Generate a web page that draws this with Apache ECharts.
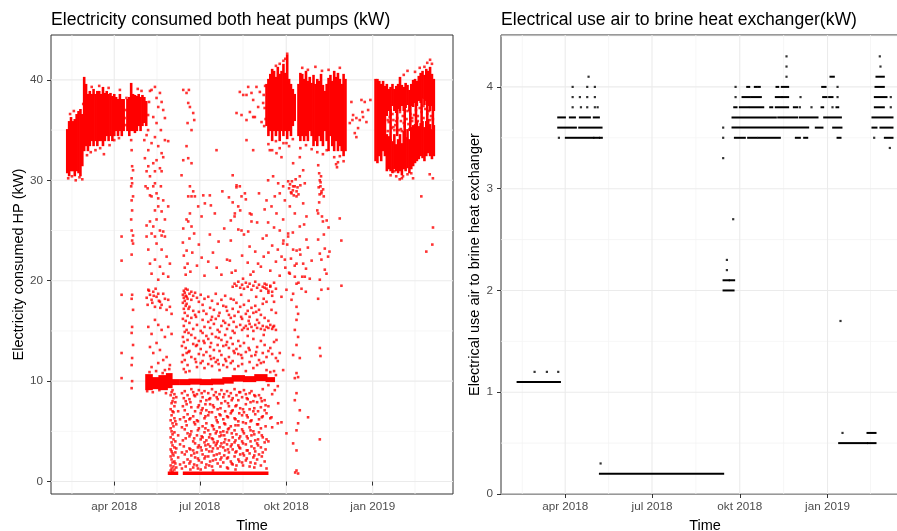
<!DOCTYPE html>
<html><head><meta charset="utf-8">
<script src="https://cdn.jsdelivr.net/npm/echarts@6/dist/echarts.min.js"></script>
<style>html,body{margin:0;padding:0;background:#fff}#c{width:897px;height:531px}</style>
</head><body><div id="c"></div>
<script>
// x values are days since 2018-01-01
const xTickDays = [90, 181, 273, 365];
const xTickLabels = ['apr 2018', 'jul 2018', 'okt 2018', 'jan 2019'];
const xMinorDays = [45, 135.5, 227, 319, 410];
const hpYTicks = [0, 10, 20, 30, 40];
const hpYMinor = [5, 15, 25, 35];
const hexYTicks = [0, 1, 2, 3, 4];
const hexYMinor = [0.5, 1.5, 2.5, 3.5, 4.5];

// ---- Left panel: electricity consumed both heat pumps (kW) ----
// dense daily ranges [day, low, high]
const hpDenseA = [[40,30.8,35.0],[42,30.5,35.8],[44,31,36.2],[46,31,35.8],[48,30.5,36],[50,31,36.5],[52,30.8,36.8],[54,30.5,37],[56,31.5,36.5],[58,33,40.2],[60,33.5,39.5],[62,33,38.5],[64,33.5,38.8],[66,34,38.5],[68,33.5,39],[70,34,38.5],[72,33.5,38.8],[74,34,38.8],[76,34,38.5],[78,33.5,39.2],[80,34,38.6],[82,34.5,38.8],[84,34,38.5],[86,34.5,38.6],[88,34,38.3],[90,34.5,38.5],[92,35,38.2],[94,34.5,38],[96,35,38.5],[98,34.5,38],[100,35,38],[104,35,38],[106,34.5,38.2],[108,35,39.6],[110,35,38.5],[112,34.8,38.4],[114,35,38.3],[116,35.5,38.5],[118,35,38.2],[120,35.5,38.4],[122,35.8,38.2],[124,35.5,37.8]];
const hpDenseB = [[252,35.5,39.5],[254,34.5,40.0],[256,35,40.5],[258,34,41.0],[260,35,40.8],[262,34.5,40.2],[264,35,41.2],[266,34,40.5],[268,35,40.8],[270,34.5,41.5],[272,35,40.6],[274,34.2,42.4],[276,35,40.0],[278,34.5,39.5],[280,35.5,39.0],[282,36,38.5],[286,34.5,39.5],[288,34,40.6],[290,34.5,40.5],[292,34,40.0],[294,34.5,40.8],[296,34,39.8],[298,35,40.2],[300,34.5,39.6],[302,33.5,40.4],[304,34,39.5],[306,33.5,40.0],[308,34.5,39.8],[310,34,40.5],[312,33.5,39.4],[314,35,38.8],[316,34,39.5],[318,33,40.1],[320,34.5,40.4],[322,33.5,39.8],[324,33,40.8],[326,34,40.2],[328,33,40.6],[330,33.5,40.0],[332,33,39.5],[334,32.5,40.5],[336,33,40.0]];
const hpDenseC = [[368,32,40],[370,31.8,40],[372,32.5,39.8],[374,32,39.5],[376,33,39.8],[378,32.5,39.3],
[380,36.5,39.5],[382,37,39.0],[384,36.5,39.2],[386,37.5,39.5],[388,37,39.0],[390,36.8,39.3],[392,37.2,39.5],[394,37,40.2],[396,37.5,39.4],[398,37,39.2],[400,37.3,39.6],[402,37.6,39.4],[404,37,38.9],[406,37.5,39.5],[408,37.4,39.9],[410,37.8,40.0],[412,37.5,39.8],[414,38,40.3],[416,37.8,40.6],[418,38.2,40.8],[420,37.6,40.4],[422,38,41.0],[424,37.5,40.8],[426,37,41.2],[428,37.5,40.5],[430,37,40.0],
[380,31,34.5],[382,31.2,34.3],[384,31,34.0],[386,30.8,33.8],[388,31.2,34.5],[390,31,33.5],[392,30.8,34],[394,31,34.5],[396,30.6,33.6],[398,31.2,34.8],[400,31,34.2],[402,31.3,35.0],[404,30.8,34.0],[406,31.2,35.2],[408,31.5,35.4],[410,31.8,35.5],[412,32,35.8],[414,32.2,35.3],[416,32.5,35.6],[418,32.3,35.8],[420,32,35.2],[422,32.5,35.8],[424,32.8,36],[426,32.5,35.5],[428,32.2,35],[430,32.5,35.4],
[384,34,37],[391,34.5,37.5],[399,34,37.2],[405,35,37.5],[411,35.5,38],[417,35.6,38],[423,35.8,38],[429,35.2,37.5]];
// horizontal dense bands [startDay, endDay, low, high]
const hpBand10 = [[124,130,9.2,10.6],[130,138,9.3,10.3],[138,146,9.2,10.5],[146,151,9.4,10.7],[151,158,9.7,10.1],[160,170,9.7,10.1],[170,182,9.75,10.15],[182,194,9.7,10.1],[194,206,9.75,10.15],[206,216,9.85,10.3],[216,228,10.05,10.5],[228,240,10.0,10.4],[240,252,10.1,10.6],[252,260,10.0,10.3]];
const hpFloor = [[148,157,0.75,0.9],[164,253,0.75,0.9]];
// scattered points [day, kW]
const hpSpringPts = [[97.8,24.4],[97.8,22.0],[97.8,18.6],[97.8,12.8],[97.8,10.3],
[108,34.0],[108.5,33],[109,31.4],[110,31.0],[108.5,30.2],[109,29.7],[108,29.4],[110,28.4],[108.5,28.0],[109,27.0],[108,26.1],[108.5,25.0],[110,24.5],[109,24.0],[110,23.7],[108.5,22.6],[109,18.6],[108.5,18.2],[110,17.1],[109,15.4],[108.5,14.8],[110,13.6],[109,12.3],[108.5,11.6],[109,10.0],[108.5,9.3],
[129.7,39.0],[133.3,39.3],[135,38.2],[136.8,37.3],[138.6,38.7],[140.4,37.8],[142.1,37.0],[143.9,36.2],[131.5,36.3],[135,35.7],[139.6,35.0],[122,34.0],[124.4,34.5],[126.2,33.0],[129.7,33.7],[133.3,34.3],[136.8,33.4],[140.4,32.7],[143.9,34.0],[147.4,33.9],[122.6,32.2],[126.2,31.4],[131.5,31.7],[135,32.0],[138.6,31.2],[142.1,32.3],[124.4,30.9],[133.3,30.9],[128,30.4],[140.4,30.9],[123.3,29.4],[125.5,29.2],[128,28.5],[129.7,28.4],[131.5,29.4],[133.3,29.7],[135,28.7],[136.8,28.2],[139.6,29.4],[142.1,28.0],[133.3,27.0],[136.8,27.4],[140.4,26.9],[143.9,26.1],[147.4,27.4],[124.4,25.5],[128,25.9],[131.5,25.4],[135,26.1],[138.6,25.0],[142.1,24.9],[129.7,24.7],[133.3,24.4],[140.4,24.5],
[124.4,24.4],[126.2,23.1],[128,21.7],[129.7,20.7],[133.3,22.1],[135,23.7],[136.8,20.1],[138.6,21.4],[140.4,23.1],[142.1,20.7],[143.9,24.4],[145.7,22.4],[147.4,20.4],[149.2,21.7],
[126.2,19.1],[128,18.6],[129.7,18.1],[131.5,18.9],[133.3,17.4],[135,18.4],[136.8,18.7],[138.6,17.9],[140.4,17.6],[142.1,18.7],[143.9,18.2],[145.7,17.1],[147.4,18.1],[149.2,17.4],[151,16.7],
[124.5,18.3],[125.5,17.6],[127,19.0],[130.5,17.8],[132,18.5],[134,19.2],[137.5,18.0],[139,17.3],
[126.2,15.4],[129.7,14.7],[133.3,16.1],[136.8,15.6],[140.4,15.1],[143.9,14.4],[147.4,15.4],[151,14.7],
[128,13.4],[131.5,12.8],[135,13.8],[138.6,13.1],[142.1,12.1],[145.7,12.4],[149.2,11.6],[129.7,11.4],[136.8,11.8],[143.9,11.1],
[125,9.0],[127.5,10.9],[131,8.9],[134.5,11.0],[138,9.1],[141.5,10.8],[145,8.8],[148.5,11.2]];
// summer cloud columns: [day, kW, kW, ...]
const hpSummerCols = [
[150,8.6,7.2,6.1,5.3,4.4,3.2,2.5,1.6,1.1],[151,8.9,7.8,6.6,5.0,3.9,3.0,2.2,1.3],[152,9.1,8.0,7.0,5.8,4.7,3.6,2.8,1.9,1.0],[153,8.3,6.9,5.5,4.2,2.6,1.5],[154,8.7,7.5,6.3,4.9,3.4,2.0,1.2],[155,7.9,6.0,4.0,2.9,1.8],[156,8.4,5.7,3.3,1.4],[158,7.0,4.6,2.4],[160,6.2,3.7,1.7],
[162,13.5,11.9,8.8,5.4,2.9,1.3],[163,18.6,17.8,16.2,14.4,12.6,7.5,4.1],[164,19.0,18.3,17.2,15.5,13.9,11.2,8.3,6.4,3.5,1.9],[165,18.8,18.0,16.8,14.9,12.1,9.0,7.1,5.2,2.7],[166,19.2,18.5,17.5,16.0,13.3,10.9,8.0,6.0,4.3,1.5],[167,18.4,17.7,15.1,12.8,7.7,5.6,3.0],[168,19.1,18.2,16.5,14.1,11.6,8.6,6.7,4.8,2.2],
[170,18.7,17.4,15.8,13.0,11.0,8.2,6.2,4.5,3.3,1.8],[172,18.9,18.1,16.3,14.6,12.4,9.2,7.4,5.0,2.6],[174,18.5,17.0,15.2,13.7,8.9,6.5,4.0,3.1,1.4],[176,18.8,16.6,14.3,12.2,8.5,7.0,5.7,3.8,2.4],[178,18.3,15.6,13.6,11.4,8.7,6.1,4.6,2.9,1.6],[180,17.9,16.9,14.0,12.7,9.1,7.6,5.3,3.6,2.1],
[182,18.6,15.0,13.2,11.8,8.0,6.8,4.2,3.4,1.2],[184,17.6,16.1,14.8,12.0,8.4,7.3,5.5,4.4,2.7],[186,18.2,15.4,13.8,11.3,9.0,6.3,4.9,3.9,2.3],[188,16.7,14.5,12.9,8.1,7.1,5.8,4.1,3.2,1.7],[190,18.4,15.9,14.2,11.7,8.8,6.6,5.1,3.7,2.5],[192,17.3,15.3,13.4,12.5,8.3,7.7,4.7,3.5,2.0],
[194,18.0,16.4,14.7,11.5,9.2,6.9,5.6,4.3,3.0,1.5],[196,17.1,15.7,13.1,12.3,8.6,7.4,5.2,3.9,2.6],[198,18.7,16.2,14.4,11.9,8.9,6.4,4.8,3.6,2.2],[200,17.7,15.1,13.6,12.1,8.2,7.2,5.9,4.0,3.3,1.8],[202,16.8,14.9,13.0,11.1,8.7,6.7,5.4,4.5,2.8],[204,18.1,15.5,14.1,12.6,9.1,7.8,4.6,3.8,2.4],
[206,17.5,16.0,13.5,11.6,8.4,6.2,5.0,3.4,1.9],[208,18.5,15.8,14.6,12.2,8.0,7.0,5.7,4.2,3.1],[210,17.0,15.2,13.9,11.4,9.0,6.5,4.9,3.7,2.3,1.4],[212,16.6,15.6,13.3,12.4,8.5,7.5,5.3,4.1,2.9],[214,18.2,16.3,14.3,11.8,8.8,6.8,5.5,3.5,2.0],
[216,19.4,17.2,15.0,13.7,12.0,8.3,7.1,4.4,3.2,1.7],[218,19.7,16.5,14.8,12.8,11.2,9.2,6.3,5.1,3.9,2.5],[220,19.5,17.8,15.4,13.2,8.6,7.6,4.7,3.0,1.6],[222,19.9,16.9,14.0,12.7,11.5,8.1,6.0,5.6,3.6,2.2],[224,19.3,17.4,15.6,13.5,8.9,7.3,4.5,3.3,2.7],[226,19.6,16.2,15.1,12.3,11.7,8.4,6.6,5.2,4.0,1.9],
[228,19.2,17.6,15.3,13.8,9.1,6.9,4.8,2.6],[230,19.8,16.7,15.5,12.9,11.0,8.7,7.7,5.8,3.7,2.1],[232,19.4,17.0,15.2,14.5,8.2,6.4,4.3,3.1],[234,19.7,16.4,15.7,13.1,11.9,8.8,7.2,5.4,2.8,1.5],[236,19.1,17.3,15.4,12.5,9.0,6.1,4.6,3.5],[238,19.5,16.8,15.0,14.2,11.3,8.0,7.0,5.0,2.4],
[240,19.9,17.5,15.6,12.6,8.5,6.7,4.1,3.0,1.8],[242,19.3,16.1,15.3,13.4,11.6,7.9,5.7,3.8,2.2],[244,19.6,17.1,15.8,12.1,8.6,6.2,4.9,2.7],[246,19.0,16.6,15.2,14.0,11.8,8.3,7.4,5.3,3.4,1.6],[248,19.4,17.7,15.5,12.8,9.2,6.5,4.4,2.9],[250,19.7,16.3,15.1,13.6,8.1,7.1,3.9,2.0],
[252,19.2,17.9,15.4,12.4,11.1,6.8,4.2,1.3],[254,18.8,16.0,15.3,13.0,9.6,7.5,4.0],[256,19.5,15.6,13.3,10.9,6.3],[258,18.5,15.2,12.7,10.2,8.7,5.4],[260,17.9,15.5,13.9,11.0],[262,16.8,15.1,12.3,10.6],[264,12.0,9.5,5.8]];
const hpSummerCols2 = [
[171,7.9,6.3,4.7,3.2,2.0,1.2],[175,8.6,5.9,4.3,2.8,1.7],[179,7.4,6.0,5.1,3.4,2.3,1.3],[183,8.8,7.1,4.5,3.1,1.9],[187,7.7,6.5,5.3,3.6,2.5,1.4],[191,8.2,6.9,4.4,3.0,1.6],
[195,7.6,5.5,4.2,3.3,2.1,1.1],[199,8.4,6.1,5.0,3.8,2.7],[203,7.3,6.6,4.9,3.5,2.2,1.5],[207,8.7,5.8,4.6,3.9,2.6],[211,7.8,6.4,5.2,3.2,2.4,1.3],[215,8.1,7.0,4.8,3.7,1.8],
[219,7.5,6.2,5.6,4.1,2.9,1.2],[223,8.9,6.8,4.3,3.4,2.0],[227,7.2,5.9,5.0,3.8,2.8,1.6],[231,8.3,6.6,4.5,3.1,2.3],[235,7.9,6.0,5.1,4.0,1.9],[239,8.6,7.3,4.7,3.3,2.6,1.4],
[243,7.0,5.7,4.2,3.6],[247,8.0,6.4,4.6,2.5],[251,7.6,5.5,3.2],
[169,17.2,14.8,12.9],[177,16.4,13.5,11.9],[185,17.0,14.0,12.6],[193,16.1,13.8,12.2],[201,16.5,14.3,11.7],[209,17.4,13.6,12.0],[217,18.1,15.9,13.0],[225,18.6,16.4,12.6],[233,18.0,16.0,13.3],[241,18.4,16.9,12.9],[249,18.2,14.6,11.9]];
const hpSummerUpperPts = [[163.4,39.0],[166.9,38.7],[169.4,39.0],[168.7,37.7],[170.5,37.3],[168,35.7],[174,36.7],[175.1,36.0],[172.2,35.0],[166.9,33.4],[163.4,32.0],[168.7,32.2],[172.2,31.7],[161.6,30.5],[170.5,29.4],[172.2,28.4],[168.7,28.4],[174,28.9],[175.8,28.4],[170.5,26.7],[166.9,26.1],[168.7,25.9],[163.4,25.2],[172.2,25.4],
[163,23.8],[164,22.5],[165,21.3],[166,20.6],[167,23.0],[168,21.7],[170,24.2],[171,20.9],[173,22.8],[175,24.7],[178,21.5],[180,23.6],[183,22.3],[186,20.5],[190,21.9],[195,22.8],
[198.8,33.0],[184.7,28.5],[186.4,27.7],[191.7,28.5],[192.8,27.5],[179.3,27.4],[182.9,26.4],[191.7,24.6],
[199,21.3],[201,23.9],[204,20.6],[207,25.2],[210,22.1],[212,28.3],[214,24.0],[215,20.8],[197,26.7],[205,28.9],
[223.6,38.8],[227.2,38.5],[230.7,38.5],[232.5,39.3],[236,38.7],[237.8,38.0],[220.1,36.7],[225.4,36.5],[230.7,36.0],[234.3,36.8],[237.8,36.3],[230.7,34.0],[237.8,33.0],[220.1,29.5],[223.6,29.4],[225.4,28.4],[229,28.7],[218.3,26.7],[221.9,27.4],[234.3,26.7],[236,25.9],[225.4,25.0],[232.5,24.9],
[239.6,36.3],[241.3,39.3],[244.9,38.8],[246.7,35.8],[248.4,37.7],[243.1,37.3],
[216,27.8],[218,26.4],[220,29.3],[222,25.1],[224,27.0],[226,22.5],[228,24.6],[230,28.1],[232,21.8],[234,23.4],[236,26.6],[238,20.9],[240,22.9],[242,25.8],[244,28.7],[246,21.4],[248,24.2],[250,27.1],[219,21.0],[227,20.2],[235,20.6],[243,21.7],[249,22.4],[213,22.0],[214,26.0],[216,30.5]];
const hpAutumnPts = [[255.5,33.0],[262.6,32.7],[267.9,32.3],[273.2,33.7],[280.3,31.7],[287.4,32.3],[291,31.0],[253.7,30.0],[259,30.4],[264.4,29.7],[269.7,29.4],[275,29.9],[280.3,29.4],[287.4,30.4],[292.7,29.7],[252,28.0],[257.3,27.4],[262.6,26.7],[269.7,26.1],[276.8,27.4],[282.1,26.7],[287.4,25.4],[291,27.7],[308.7,30.0],[309.4,29.4],[310.4,28.7],[312.2,29.1],[306.9,26.7],[308,30.7],[312.9,28.4],[260.8,28.4],[266.1,28.7],[271.5,28.0],[278.6,28.7],[283.9,28.4],[253.7,25.8],[266.1,25.0],[275,24.7],[294.5,26.4],
[276,29.2],[277,29.6],[278,28.8],[279,29.9],[280,29.0],[281,28.5],[282,29.4],[283,30.1],[284,28.9],[285,29.3],[286,28.6],[288,29.5],
[252,24.5],[254,22.8],[256,21.0],[258,23.5],[260,25.3],[262,21.9],[264,23.1],[266,20.5],[268,22.4],[270,24.0],[272,21.3],[274,23.6],[276,20.8],[278,22.2],[280,24.8],[282,21.5],[284,23.0],[286,19.8],[288,22.6],[290,20.4],[292,25.6],[294,21.2],[296,23.3],[298,20.2],[300,22.0],
[250,19.3],[252,19.6],[254,19.0],[256,19.4],[258,18.9],[260,19.8],[262,19.2],
[275,24.4],[280.3,23.1],[283.9,21.7],[282.1,20.4],[283.9,19.7],[280.3,18.7],[283.9,17.4],[285.6,16.7],[283.9,16.1],[282.1,15.1],[285.6,14.4],[283.9,13.6],[280.3,12.6],[287.4,12.3],[283.9,10.8],[282.1,10.3],[285.6,10.4],[283.9,8.8],[282.1,8.1],[287.4,7.1],[285.6,5.8],[283.9,5.1],[280.3,3.8],[283.9,3.1],[283.9,1.1],[285.6,0.8],[282.5,0.9],
[269.7,23.7],[271.5,22.1],[276.8,20.7],[287.4,23.1],[291,21.7],[292.7,20.4],[294.5,24.1],[289.2,19.2],[293.8,18.9],[273.2,19.1],[267.9,18.4],[278.6,18.1],
[257.3,17.1],[259,15.4],[262.6,14.1],[266.1,12.8],[269.7,11.1],[260.8,9.1],[264.4,7.8],[267.9,5.9],[257.3,6.4],[273.2,4.8],
[306.9,24.1],[308.7,22.7],[310.4,22.1],[314,21.1],[317.5,22.4],[315.8,20.7],[308.7,20.1],[317.5,19.2],[310.4,19.1],[306.9,18.2],[308.7,13.3],[309.4,12.5],[331.7,19.5],[308.7,4.2],[296.2,6.4],
[307.5,29.3],[308.5,28.6],[309.5,29.8],[310.5,28.9],[308,27.8],[311,26.4],[312,25.9],[313,24.6],[314,23.2],[316,26.0],[318,25.3],[319,22.9],[307,31.5],[310,30.4],[306,27.0],[329.9,26.2],[331.6,24.0]];
const hpWinterPts = [[41,30.2],[45,30.4],[49,30.0],[53,30.3],[56,30.1],[61,32.5],[65,32.8],[70,33.0],[75,33.2],[79,32.6],[85,33.5],[90,34.0],[95,34.2],[102,35.5],[102,37.0],[101,36.2],[103,38.2],[126,36.5],[127,37.8],[128,38.9],[126,35.0],[57,37.6],[59,38.8],[47,36.9],[43,36.6],[66,39.3],[74,39.4],[84,39.2],[96,39.0],[115,39.1],[119,38.9],
[324,32.3],[326,31.6],[328,31.8],[330,32.4],[327,31.3],[334,31.9],[270,41.9],[272,42.1],[274,42.6],[266,41.6],[262,41.4],[290,41.2],[296,41.0],[304,41.3],[311,40.9],[318,41.0],[330,41.2],
[249,38.5],[250,37.2],[251,36.1],[250.5,39.4],[249.5,35.4],[254,33.6],[258,33.0],[262,33.9],[266,33.2],[270,33.7],[276,33.4],[280,34.1],[288,33.2],[294,33.5],[300,33.1],[306,32.8],[312,32.6],[316,33.0],
[340.6,35.7],[344.1,36.5],[347.6,36.2],[351.2,36.0],[354,36.8],[356.5,37.8],[360.1,37.0],[362.5,38.0],[345.9,34.7],[349.4,35.2],[354.7,36.3],[358.3,35.8],[342.3,37.8],[353,38.0],[343.4,36.0],[347.6,34.3],
[382,35.8],[383,36.3],[385,35.2],[387,36.0],[389,35.5],[391,36.2],[393,35.0],[395,35.9],[397,36.4],[399,35.4],[401,36.1],[403,35.6],[405,36.6],[407,35.9],[409,36.5],[411,37.0],[413,36.4],[415,37.2],[417,36.8],[419,36.2],[421,37.1],[423,36.6],[425,36.9],[427,36.4],[429,36.1],[381,34.9],[388,35.0],[396,34.9],[404,35.1],
[386,36.6],[390,35.9],[394,36.8],[398,35.7],[402,36.9],[407,36.2],[413,35.9],[419,37.4],[426,36.0],[381,36.0],[387,35.3],[395,35.1],
[398,40.5],[402,40.9],[410,40.8],[415,41.2],[423,41.7],[426,42.0],[428,41.6],[420,41.3],[384,30.5],[390,30.4],[396,30.2],[402,30.6],[388,30.9],[406,30.7],
[422,22.9],[428.4,23.6],[429.1,25.3],[425.6,30.6],[429,30.2],[416.7,28.4],[393.7,30.1],[407.9,30.2],[397.2,30.4]];

// ---- Right panel: electrical use air to brine heat exchanger (kW) ----
// runs of consecutive readings [startDay, endDay, kW]
const hexRuns = [[40.1,84.5,1.1],[126.4,255.6,0.2],[377.2,406.5,0.5],[407.5,415.3,0.5],[406.9,415.3,0.6],
[256,261.5,2.1],[262.5,267.1,2.1],[256,266.5,2.0],
[90.7,119.5,3.5],[120.5,125.5,3.5],[126.5,128.4,3.5],[82.7,101.2,3.6],[104.7,128.1,3.6],[82.7,89.7,3.7],[94.9,100.2,3.7],[105.4,115.9,3.7],[120,125.3,3.7],
[267.9,278.3,3.5],[281.8,290.6,3.5],[292.3,315,3.5],[331.8,336,3.5],[340.5,343.7,3.5],[375.5,378.6,3.5],[425.1,433.1,3.5],
[265.4,344.7,3.6],[352.7,359.7,3.6],[370.9,379.6,3.6],[412.1,416.3,3.6],[420.5,433.1,3.6],
[265.4,310.8,3.7],[313.3,333.2,3.7],[336,354.5,3.7],[361.5,379,3.7],[412.1,433.1,3.7],
[267.2,269.6,3.8],[273.1,281.8,3.8],[283.6,297.6,3.8],[304.9,307,3.8],[310.8,323.7,3.8],[329.7,333.2,3.8],[358.7,360.4,3.8],[374.4,376.2,3.8],[414.6,424,3.8],
[275.9,283.6,3.9],[285.3,295.1,3.9],[310.8,316.8,3.9],[317.8,323.7,3.9],[360.4,363.9,3.9],[366.7,370.2,3.9],[414.6,426.8,3.9],
[280.8,282.9,4.0],[288.8,290.6,4.0],[292.3,294,4.0],[311.5,313.3,4.0],[317.1,323.7,4.0],[359.4,362.9,4.0],[415.3,424,4.0],
[368.1,371.6,4.1],[416.3,424,4.1]];
// isolated readings [day, kW]
const hexDots = [[83.4,3.5],[97.8,3.8],[106.5,3.8],[113.1,3.8],[121.1,3.8],[124,3.8],[97.8,3.9],[105.4,3.9],[113.1,3.9],[121.1,3.9],[97.8,4.0],[113.1,4.0],[121.1,4.0],[114.5,4.1],
[57.9,1.2],[70.8,1.2],[82.7,1.2],[127.1,0.3],[259.5,2.3],[259.5,2.2],[378.6,1.7],[380.7,0.6],
[255.6,3.6],[255.6,3.5],[255.6,3.3],[266.1,2.7],[268.6,4.0],[268.6,3.9],[322,4.3],[322,4.2],[322,4.1],[419.8,4.3],[420.5,4.2],[336.7,3.9],[375.5,3.9],[431.3,3.9],[375.5,4.0],[336,3.8],[348.2,3.8],[370.2,3.8],[431.3,3.8],[413.9,3.5],[430.3,3.4]];

// ---------------- chart ----------------
const FONT = 'Liberation Sans, Arial, sans-serif';
const RED = '#ff0000';
const hpMin = -1.24, hpMax = 44.47, hexMin = 0, hexMax = 4.51, xMin = 22.7, xMax = 450.4;

const hpPoints = [].concat(hpSpringPts, hpSummerUpperPts, hpAutumnPts, hpWinterPts);
hpSummerCols.concat(hpSummerCols2).forEach(c => c.slice(1).forEach(v => hpPoints.push([c[0], v])));
const hpRanges = [].concat(hpDenseA, hpDenseB, hpDenseC);
const hpBands = [].concat(hpBand10, hpFloor);

function gridData(yMin, yMajor, yMinor) {
  const out = [];
  xMinorDays.forEach(d => out.push([d, yMin, 0, 0]));
  yMinor.forEach(v => out.push([xMin, v, 1, 0]));
  xTickDays.forEach(d => out.push([d, yMin, 0, 1]));
  yMajor.forEach(v => out.push([xMin, v, 1, 1]));
  return out;
}
function gridItem(params, api) {
  const cs = params.coordSys;
  const p = api.coord([api.value(0), api.value(1)]);
  const major = api.value(3) === 1;
  const style = { stroke: major ? '#ebebeb' : '#f4f4f4', lineWidth: major ? 1.1 : 0.8 };
  if (api.value(2) === 0) {
    return { type: 'line', shape: { x1: p[0], y1: cs.y, x2: p[0], y2: cs.y + cs.height }, style: style };
  }
  return { type: 'line', shape: { x1: cs.x, y1: p[1], x2: cs.x + cs.width, y2: p[1] }, style: style };
}
function rangeItem(params, api) {
  const a = api.coord([api.value(0), api.value(1)]);
  const b = api.coord([api.value(0), api.value(2)]);
  return { type: 'rect', shape: { x: a[0] - 1.3, y: b[1] - 1, width: 2.6, height: a[1] - b[1] + 2 }, style: { fill: RED } };
}
function bandItem(params, api) {
  const a = api.coord([api.value(0), api.value(3)]);
  const b = api.coord([api.value(1), api.value(2)]);
  return { type: 'rect', shape: { x: a[0] - 1, y: a[1] - 1, width: b[0] - a[0] + 2, height: b[1] - a[1] + 2 }, style: { fill: RED } };
}
function runItem(params, api) {
  const a = api.coord([api.value(0), api.value(2)]);
  const b = api.coord([api.value(1), api.value(2)]);
  return { type: 'rect', shape: { x: a[0] - 1, y: a[1] - 1, width: b[0] - a[0] + 2, height: 2 }, style: { fill: '#000' } };
}
function xLabel(v) {
  for (let i = 0; i < xTickDays.length; i++) if (Math.abs(v - xTickDays[i]) < 0.01) return xTickLabels[i];
  return '';
}
function xAxisCfg(idx) {
  return {
    gridIndex: idx, type: 'value', min: xMin, max: xMax,
    axisLine: { show: false },
    axisTick: { show: true, length: 4, lineStyle: { color: '#333' }, customValues: xTickDays },
    axisLabel: { customValues: xTickDays, formatter: xLabel, color: '#4d4d4d', fontSize: 11.7, fontFamily: FONT, margin: 7 },
    splitLine: { show: false },
    name: 'Time', nameLocation: 'middle', nameGap: 24,
    nameTextStyle: { fontSize: 14.5, color: '#000', fontFamily: FONT }
  };
}
function yAxisCfg(idx, mn, mx, ticks, name, gap) {
  return {
    gridIndex: idx, type: 'value', min: mn, max: mx,
    axisLine: { show: false },
    axisTick: { show: true, length: 4, lineStyle: { color: '#333' }, customValues: ticks },
    axisLabel: { customValues: ticks, color: '#4d4d4d', fontSize: 11.7, fontFamily: FONT, margin: 8 },
    splitLine: { show: false },
    name: name, nameLocation: 'middle', nameRotate: 90, nameGap: gap,
    nameTextStyle: { fontSize: 14.5, color: '#000', fontFamily: FONT }
  };
}

const chart = echarts.init(document.getElementById('c'), null, { renderer: 'canvas' });
chart.setOption({
  animation: false,
  backgroundColor: '#fff',
  title: [
    { text: 'Electricity consumed both heat pumps (kW)', left: 51, top: 11, padding: 0,
      textStyle: { fontSize: 17.6, fontWeight: 'normal', color: '#000', fontFamily: FONT } },
    { text: 'Electrical use air to brine heat exchanger(kW)', left: 501, top: 11, padding: 0,
      textStyle: { fontSize: 17.6, fontWeight: 'normal', color: '#000', fontFamily: FONT } }
  ],
  grid: [
    { left: 51, top: 35, width: 402, height: 459, outerBoundsMode: 'none', containLabel: false, show: true, borderColor: '#333', borderWidth: 1, backgroundColor: 'transparent' },
    { left: 501, top: 35, width: 408, height: 459, outerBoundsMode: 'none', containLabel: false, show: true, borderColor: '#333', borderWidth: 1, backgroundColor: 'transparent' }
  ],
  xAxis: [xAxisCfg(0), xAxisCfg(1)],
  yAxis: [
    yAxisCfg(0, hpMin, hpMax, hpYTicks, 'Electricity consumed HP (kW)', 22),
    yAxisCfg(1, hexMin, hexMax, hexYTicks, 'Electrical use air to brine heat exchanger', 15)
  ],
  series: [
    { type: 'custom', xAxisIndex: 0, yAxisIndex: 0, data: gridData(hpMin, hpYTicks, hpYMinor), renderItem: gridItem, silent: true, z: 0, clip: true },
    { type: 'custom', xAxisIndex: 1, yAxisIndex: 1, data: gridData(hexMin, hexYTicks, hexYMinor), renderItem: gridItem, silent: true, z: 0, clip: true },
    { type: 'custom', xAxisIndex: 0, yAxisIndex: 0, data: hpRanges, renderItem: rangeItem, encode: { x: 0, y: [1, 2] }, silent: true, z: 2, clip: true },
    { type: 'custom', xAxisIndex: 0, yAxisIndex: 0, data: hpBands, renderItem: bandItem, encode: { x: [0, 1], y: [2, 3] }, silent: true, z: 2, clip: true },
    { type: 'scatter', xAxisIndex: 0, yAxisIndex: 0, data: hpPoints, symbol: 'rect', symbolSize: 2.6, itemStyle: { color: RED }, silent: true, z: 3 },
    { type: 'custom', xAxisIndex: 1, yAxisIndex: 1, data: hexRuns, renderItem: runItem, encode: { x: [0, 1], y: 2 }, silent: true, z: 2, clip: true },
    { type: 'scatter', xAxisIndex: 1, yAxisIndex: 1, data: hexDots, symbol: 'rect', symbolSize: 2.2, itemStyle: { color: '#000' }, silent: true, z: 3 }
  ]
});
</script></body></html>
